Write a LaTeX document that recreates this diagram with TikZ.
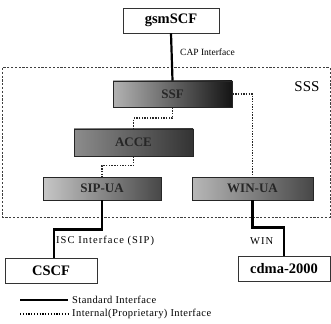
\documentclass[tikz,border=0pt]{standalone}
\usepackage{fontspec}
\setmainfont{Liberation Serif}
\begin{document}
\begin{tikzpicture}[x=1pt,y=-1pt,
  plainbox/.style={draw=black!80, line width=0.9pt, fill=white, inner sep=0pt,
    font=\fontsize{14.5}{16}\selectfont\bfseries},
  unitbox/.style={draw=black!85, line width=0.9pt, inner sep=0pt,
    font=\fontsize{13}{15}\selectfont\bfseries, text=black!85},
  stdlink/.style={line width=2.2pt, black},
  proplink/.style={line width=1.9pt, black!85, dash pattern=on 1.4pt off 1.3pt},
  sssframe/.style={line width=1pt, black!75, dash pattern=on 2.2pt off 1.6pt},
  smalllabel/.style={anchor=west, inner sep=0pt, font=\fontsize{9.5}{11}\selectfont},
  widelabel/.style={anchor=west, inner sep=0pt,
    font=\fontsize{10.5}{12}\selectfont\addfontfeature{LetterSpace=10}},
  legendlabel/.style={anchor=west, inner sep=0pt,
    font=\fontsize{10.5}{12}\selectfont\addfontfeature{LetterSpace=4}}
]
\useasboundingbox (0,0) rectangle (331,323);

% SSS domain frame
\draw[sssframe] (2.5,68) rectangle (330,217);
\node[inner sep=0pt, font=\fontsize{15}{17}\selectfont] (sss) at (307,87) {SSS};

% external entities
\node[plainbox, minimum width=96pt, minimum height=25pt] (gsmscf) at (171,20.5) {gsmSCF};
\node[plainbox, minimum width=92pt, minimum height=25pt] (cscf) at (51,270.5) {CSCF};
\node[plainbox, minimum width=92pt, minimum height=25pt] (cdma) at (284,268.5) {cdma-2000};

% internal units
\node[unitbox, minimum width=119pt, minimum height=26pt,
      left color=black!30, right color=black!92] (ssf) at (172.5,94) {SSF};
\node[unitbox, minimum width=119pt, minimum height=27pt,
      left color=black!45, right color=black!80] (acce) at (133.5,142.5) {ACCE};
\node[unitbox, minimum width=118pt, minimum height=23pt,
      left color=black!22, right color=black!72] (sipua) at (102,188.5) {SIP-UA};
\node[unitbox, minimum width=121pt, minimum height=23pt,
      left color=black!28, right color=black!72] (winua) at (252.5,188.5) {WIN-UA};

% standard interfaces
\draw[stdlink] (gsmscf.south) -- (ssf.north);
\draw[stdlink] (sipua.south) -- ++(0,29) -| ([xshift=3pt]cscf.north);
\draw[stdlink] (winua.south) -- ++(0,27) -| (cdma.north);

% internal interfaces
\draw[proplink] (ssf.south) -- ++(0,11) -| (acce.north);
\draw[proplink] (acce.south) -- ++(0,9) -| (sipua.north);
\draw[proplink] (ssf.east) -| (winua.north);

% interface labels
\node[smalllabel] (caplbl) at (180,52) {CAP Interface};
\node[widelabel] (isclbl) at (56,241) {ISC Interface (SIP)};
\node[widelabel] (winlbl) at (250,241) {WIN};

% legend
\coordinate (lgs1) at (20,300);
\coordinate (lgs2) at (68,300);
\coordinate (lgp1) at (20,314);
\coordinate (lgp2) at (68,314);
\draw[line width=1.8pt] (lgs1) -- (lgs2);
\draw[line width=1.5pt, dash pattern=on 1.2pt off 1.6pt] (lgp1) -- (lgp2);
\node[legendlabel] (lgstd) at (72,300) {Standard Interface};
\node[legendlabel] (lgprop) at (72,314) {Internal(Proprietary) Interface};
\end{tikzpicture}
\end{document}
